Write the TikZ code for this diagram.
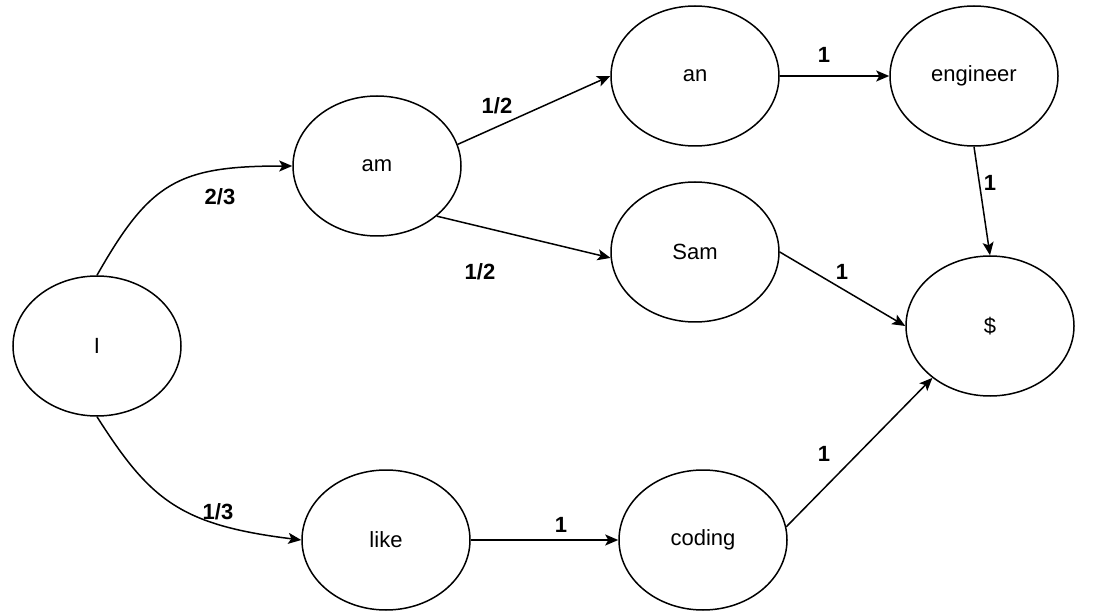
\documentclass[tikz,border=0pt]{standalone}
\usepackage{fontspec}
\setmainfont{Liberation Sans}
\usetikzlibrary{shapes.geometric,arrows.meta}
\begin{document}
\begin{tikzpicture}[x=1pt,y=-1pt,
  state/.style={ellipse,draw,line width=1.5pt,minimum width=168pt,minimum height=140pt,inner sep=0pt,font=\fontsize{22}{26}\selectfont},
  edge/.style={line width=1.5pt,-{Stealth[length=13pt,width=11pt,inset=3pt]}},
  lbl/.style={font=\fontsize{22}{26}\selectfont\bfseries,inner sep=1pt}]
\useasboundingbox (0,0) rectangle (1109,612);
\node[state] (I) at (97,346) {I};
\node[state] (am) at (377,166) {am};
\node[state] (an) at (695,76) {an};
\node[state] (eng) at (974,76) {engineer};
\node[state] (sam) at (695,252) {Sam};
\node[state] (end) at (990,326) {\$};
\node[state] (like) at (386,540) {like};
\node[state] (coding) at (703,540) {coding};

\draw[edge] (I.north) .. controls (150,182) and (178,166) .. (am.west);
\draw[edge] (I.south) .. controls (150,500) and (180,525) .. (like.west);
\draw[edge] (am.15) -- (an.west);
\draw[edge] (am.-40) -- (sam.184);
\draw[edge] (an.east) -- (eng.west);
\draw[edge] (eng.south) -- (end.north);
\draw[edge] (sam.east) -- (end.west);
\draw[edge] (like.east) -- (coding.west);
\draw[edge] (coding.9) -- (end.222);

\node[lbl] (l1) at (220,197) {2/3};
\node[lbl] (l2) at (497,106) {1/2};
\node[lbl] (l3) at (480,272) {1/2};
\node[lbl] (l4) at (824,55) {1};
\node[lbl] (l5) at (990,183) {1};
\node[lbl] (l6) at (842,272) {1};
\node[lbl] (l7) at (218,512) {1/3};
\node[lbl] (l8) at (561,525) {1};
\node[lbl] (l9) at (824,454) {1};
\end{tikzpicture}
\end{document}
